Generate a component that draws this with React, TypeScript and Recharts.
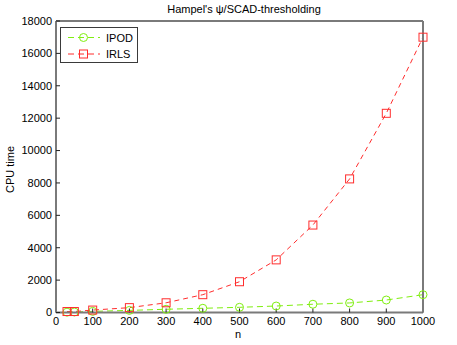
import { LineChart, Line, XAxis, YAxis, Legend } from 'recharts';

const nValues = [30, 50, 100, 200, 300, 400, 500, 600, 700, 800, 900, 1000];
const ipodTime = [20, 30, 70, 130, 200, 260, 320, 400, 510, 590, 770, 1100];
const irlsTime = [60, 60, 150, 300, 600, 1100, 1900, 3250, 5400, 8250, 12300, 17000];
const xTicks = [0, 100, 200, 300, 400, 500, 600, 700, 800, 900, 1000];
const yTicks = [0, 2000, 4000, 6000, 8000, 10000, 12000, 14000, 16000, 18000];

const data = nValues.map((n, i) => ({ n, ipod: ipodTime[i], irls: irlsTime[i] }));

const GREEN = '#80ee10';
const RED = '#ff2d2d';
const AXIS = '#7a7a7a';
const FONT = '"Liberation Sans", Arial, sans-serif';

const SquareDot = (props: any) => {
  const { cx, cy } = props;
  if (cx == null || cy == null) return null;
  return <rect x={cx - 4} y={cy - 4} width={8} height={8} fill="none" stroke={RED} strokeWidth={1} />;
};

const LegendBox = () => (
  <div style={{ border: '1px solid #3a3a3a', background: '#fff', width: 76, height: 34 }}>
    <svg width={76} height={34} style={{ display: 'block' }}>
      <line x1={7} x2={39} y1={9.5} y2={9.5} stroke={GREEN} strokeDasharray="6 4" />
      <circle cx={22.5} cy={9.5} r={4} fill="none" stroke={GREEN} />
      <text x={45} y={13.5} fontSize={11} fontFamily={FONT} fill="#000">IPOD</text>
      <line x1={7} x2={39} y1={26} y2={26} stroke={RED} strokeDasharray="6 4" />
      <rect x={18.5} y={22} width={8} height={8} fill="none" stroke={RED} />
      <text x={45} y={30} fontSize={11} fontFamily={FONT} fill="#000">IRLS</text>
    </svg>
  </div>
);

export default function App() {
  return (
    <div style={{ position: 'absolute', left: 0, top: 0, width: 457, height: 345, background: '#fff', fontFamily: FONT }}>
      <div style={{ position: 'absolute', left: 44, top: 3, width: 400, textAlign: 'center', fontSize: 11, lineHeight: '13px', color: '#000' }}>
        Hampel's ψ/SCAD-thresholding
      </div>
      <div style={{ position: 'absolute', left: 228, top: 328, width: 20, textAlign: 'center', fontSize: 11, lineHeight: '13px' }}>n</div>
      <div style={{ position: 'absolute', left: 10, top: 169, width: 0, height: 0 }}>
        <div style={{ position: 'absolute', left: -40, top: -6.5, width: 80, textAlign: 'center', fontSize: 11, lineHeight: '13px', transform: 'rotate(-90deg)' }}>CPU time</div>
      </div>
      <LineChart width={457} height={345} data={data} margin={{ top: 20, right: 33, bottom: 2.5, left: 6 }} style={{ position: 'absolute', left: 0, top: 0 }}>
        <XAxis xAxisId="b" dataKey="n" type="number" domain={[0, 1000]} ticks={xTicks} height={30} tickSize={-4} tickMargin={9}
          axisLine={{ stroke: AXIS, strokeWidth: 2 }} tickLine={{ stroke: '#222' }} tick={{ fill: '#000', fontSize: 11, fontFamily: FONT }} interval={0} />
        <XAxis xAxisId="t" orientation="top" type="number" domain={[0, 1000]} ticks={xTicks} height={1} tickSize={-4}
          axisLine={{ stroke: AXIS, strokeWidth: 2 }} tickLine={{ stroke: '#222' }} tick={false} interval={0} />
        <YAxis yAxisId="l" type="number" domain={[0, 18000]} ticks={yTicks} width={50} tickSize={-4} tickMargin={8}
          axisLine={{ stroke: AXIS, strokeWidth: 2 }} tickLine={{ stroke: '#222' }} tick={{ fill: '#000', fontSize: 11, fontFamily: FONT }} interval={0} />
        <YAxis yAxisId="r" orientation="right" type="number" domain={[0, 18000]} ticks={yTicks} width={1} tickSize={-4}
          axisLine={{ stroke: AXIS, strokeWidth: 2 }} tickLine={{ stroke: '#222' }} tick={false} interval={0} />
        <Legend layout="vertical" align="center" verticalAlign="middle" content={() => <LegendBox />}
          wrapperStyle={{ position: 'absolute', left: 60, top: 27, width: 'auto' }} />
        <Line xAxisId="b" yAxisId="l" dataKey="ipod" name="IPOD" type="linear" stroke={GREEN} strokeWidth={1} strokeDasharray="6 4"
          dot={{ r: 4, fill: 'none', stroke: GREEN, strokeWidth: 1, strokeDasharray: '' }} isAnimationActive={false} />
        <Line xAxisId="b" yAxisId="l" dataKey="irls" name="IRLS" type="linear" stroke={RED} strokeWidth={1} strokeDasharray="5 4"
          dot={<SquareDot />} isAnimationActive={false} />
      </LineChart>
    </div>
  );
}
